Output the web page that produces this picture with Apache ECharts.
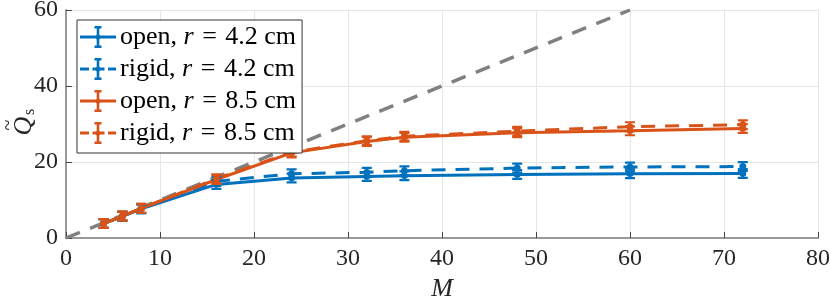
<!DOCTYPE html>
<html>
<head>
<meta charset="utf-8">
<script src="https://cdn.jsdelivr.net/npm/echarts@6/dist/echarts.min.js"></script>
<style>html,body{margin:0;padding:0;background:#fff}#c{width:830px;height:301px}</style>
</head>
<body>
<div id="c"></div>
<script>
const M = [4, 6, 8, 16, 24, 32, 36, 48, 60, 72];
const open42 = [3.8, 5.7, 7.7, 14.1, 15.8, 16.2, 16.4, 16.7, 16.9, 17.0];
const rigid42 = [3.8, 5.7, 7.7, 14.9, 16.9, 17.3, 17.7, 18.4, 18.7, 18.8];
const open85 = [3.8, 5.8, 7.8, 15.4, 22.4, 25.4, 26.5, 27.7, 28.2, 28.8];
const rigid85 = [3.8, 5.8, 7.8, 15.6, 22.6, 25.6, 26.8, 28.1, 29.3, 29.8];
const refLineX = [0, 60];
const refLineY = [0, 60];
const xTicks = [0, 10, 20, 30, 40, 50, 60, 70, 80];
const yTicks = [0, 20, 40, 60];
const names = ['open, r = 4.2 cm', 'rigid, r = 4.2 cm', 'open, r = 8.5 cm', 'rigid, r = 8.5 cm'];

const blue = '#0072BD', orange = '#D95319', gray = '#808080';
const FONT = "'Liberation Serif', 'DejaVu Serif', serif";
const errSym = 'path://M0,0 H10 V2.4 H6.3 V9.6 H10 V12 H0 V9.6 H3.7 V2.4 H0 Z M1.5,6 A3.5,3.5 0 1,1 8.5,6 A3.5,3.5 0 1,1 1.5,6 Z';
const errBar = 'M14.5,0 H21.5 V2.4 H19.3 V19.6 H21.5 V22 H14.5 V19.6 H16.7 V2.4 H14.5 Z M15.4,11 A2.6,2.6 0 1,1 20.6,11 A2.6,2.6 0 1,1 15.4,11 Z';
const iconSolid = 'path://M0,9.5 H36 V12.5 H0 Z ' + errBar;
const iconDash = 'path://M0,9.5 H9 V12.5 H0 Z M12.5,9.5 H24.5 V12.5 H12.5 Z M28,9.5 H36 V12.5 H28 Z ' + errBar;

function pairs(xs, ys) { return xs.map((x, i) => [x, ys[i]]); }
function mk(name, data, color, dashed) {
  return {
    name: name, type: 'line', data: pairs(M, data),
    symbol: errSym, symbolSize: [10, 11], showSymbol: true,
    itemStyle: { color: color },
    lineStyle: { color: color, width: 3, type: dashed ? [14, 10] : 'solid' },
    emphasis: { disabled: true }, animation: false
  };
}

const chart = echarts.init(document.getElementById('c'));
chart.setOption({
  animation: false,
  grid: { left: 66, right: 12, top: 10, bottom: 63, outerBoundsMode: 'none', containLabel: false },
  xAxis: {
    type: 'value', min: 0, max: 80, interval: 10,
    name: 'M', nameLocation: 'middle', nameGap: 34,
    nameTextStyle: { fontFamily: FONT, fontStyle: 'italic', fontSize: 26, color: '#262626' },
    axisLine: { show: true, onZero: false, lineStyle: { color: '#999', width: 2 } },
    axisTick: { show: true, inside: true, length: 6, lineStyle: { color: '#444', width: 1 } },
    axisLabel: { fontFamily: FONT, fontSize: 24, color: '#262626', margin: 9,
      formatter: v => xTicks.includes(v) ? String(v) : '' },
    splitLine: { show: true, lineStyle: { color: '#e6e6e6', width: 1 } }
  },
  yAxis: {
    type: 'value', min: 0, max: 60, interval: 20,
    axisLine: { show: true, onZero: false, lineStyle: { color: '#999', width: 2 } },
    axisTick: { show: true, inside: true, length: 6, lineStyle: { color: '#444', width: 1 } },
    axisLabel: { fontFamily: FONT, fontSize: 24, color: '#262626', margin: 8,
      formatter: v => yTicks.includes(v) ? String(v) : '' },
    splitLine: { show: true, lineStyle: { color: '#e6e6e6', width: 1 } }
  },
  graphic: [{
    type: 'group', x: 24, y: 126, rotation: Math.PI / 2,
    children: [
      { type: 'text', x: 0, y: 0, style: { text: 'Q', font: "italic 26px 'Liberation Serif', serif", fill: '#262626', align: 'center', verticalAlign: 'middle' } },
      { type: 'text', x: 1, y: -15, style: { text: '~', font: "20px 'Liberation Serif', serif", fill: '#262626', align: 'center', verticalAlign: 'middle' } },
      { type: 'text', x: 14, y: 6, style: { text: 's', font: "16px 'Liberation Serif', serif", fill: '#262626', align: 'center', verticalAlign: 'middle' } }
    ]
  }],
  legend: {
    data: [
      { name: names[0], icon: iconSolid },
      { name: names[1], icon: iconDash },
      { name: names[2], icon: iconSolid },
      { name: names[3], icon: iconDash }
    ],
    orient: 'vertical', left: 77, top: 20,
    backgroundColor: '#fff', borderColor: '#333', borderWidth: 1,
    padding: [4, 6, 7, 3], itemGap: 6, itemWidth: 36, itemHeight: 22,
    formatter: function (n) {
      const p = n.split(', r = ');
      return p[0] + ', {i|r} {t|=} ' + p[1];
    },
    textStyle: { fontFamily: FONT, fontSize: 26, color: '#000', lineHeight: 26, padding: [0,0,0,-1],
      rich: {
        i: { fontFamily: FONT, fontStyle: 'italic', fontSize: 26, color: '#000', lineHeight: 26 },
        t: { fontFamily: FONT, fontSize: 26, color: '#000', lineHeight: 26, padding: [0, 2, 0, 2] }
      } }
  },
  series: [
    { name: 'ref', type: 'line', data: pairs(refLineX, refLineY), symbol: 'none',
      lineStyle: { color: gray, width: 3.5, type: [15, 11] }, emphasis: { disabled: true }, silent: true },
    mk(names[0], open42, blue, false),
    mk(names[1], rigid42, blue, true),
    mk(names[2], open85, orange, false),
    mk(names[3], rigid85, orange, true)
  ]
});
</script>
</body>
</html>
